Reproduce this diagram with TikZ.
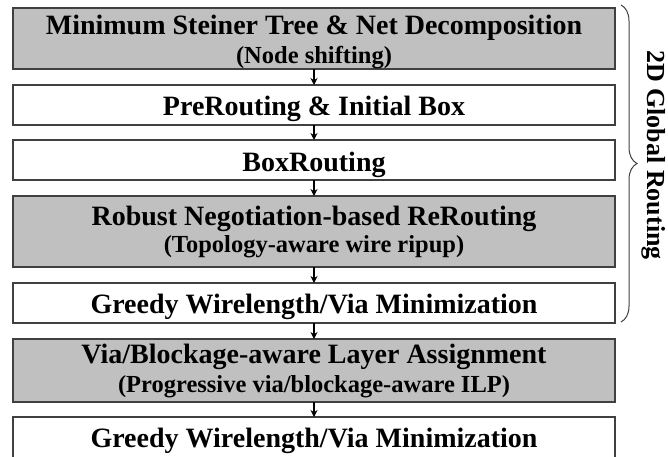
\documentclass[tikz,border=0pt]{standalone}
\usepackage{fontspec}
\setmainfont{Liberation Serif}
\usetikzlibrary{arrows.meta,decorations.pathreplacing}
\definecolor{boxgray}{RGB}{192,192,192}
\definecolor{edgegray}{RGB}{64,64,64}
\begin{document}
\begin{tikzpicture}[x=1pt,y=-1pt,
  stage/.style={draw=edgegray, line width=1.2pt, minimum width=602pt, inner sep=0pt, outer sep=0pt},
  shaded/.style={stage, fill=boxgray},
  plain/.style={stage, fill=white},
  headline/.style={font=\fontsize{28}{30}\selectfont\bfseries, anchor=base, inner sep=0pt},
  subline/.style={font=\fontsize{24.5}{27}\selectfont\bfseries, anchor=base, inner sep=0pt},
  flow/.style={draw=black, line width=1.2pt, -{Stealth[length=7pt,width=7pt]}},
]
\useasboundingbox (0,0) rectangle (668,456);

% stage boxes
\node[shaded, minimum height=61pt] (b1) at (314,38.5) {};
\node[plain,  minimum height=40pt] (b2) at (314,105) {};
\node[plain,  minimum height=40pt] (b3) at (314,160) {};
\node[shaded, minimum height=71pt] (b4) at (314,231.5) {};
\node[plain,  minimum height=40pt] (b5) at (314,303) {};
\node[shaded, minimum height=63pt] (b6) at (314,370.5) {};
\node[plain,  minimum height=58pt] (b7) at (314,446) {};

% stage texts
\node[headline] (t1) at (314,34) {Minimum Steiner Tree \& Net Decomposition};
\node[subline]  (s1) at (314,63) {(Node shifting)};
\node[headline] (t2) at (314,115) {PreRouting \& Initial Box};
\node[headline] (t3) at (314,171) {BoxRouting};
\node[headline] (t4) at (314,225) {Robust Negotiation-based ReRouting};
\node[subline]  (s4) at (314,252) {(Topology-aware wire ripup)};
\node[headline] (t5) at (314,313) {Greedy Wirelength/Via Minimization};
\node[headline] (t6) at (314,363) {Via/Blockage-aware Layer Assignment};
\node[subline]  (s6) at (314,392) {(Progressive via/blockage-aware ILP)};
\node[headline] (t7) at (314,447) {Greedy Wirelength/Via Minimization};

% flow arrows
\draw[flow] (b1.south) -- (b2.north);
\draw[flow] (b2.south) -- (b3.north);
\draw[flow] (b3.south) -- (b4.north);
\draw[flow] (b4.south) -- (b5.north);
\draw[flow] (b5.south) -- (b6.north);
\draw[flow] (b6.south) -- (b7.north);

% brace grouping the 2D stages
\coordinate (bt) at (621,5);
\coordinate (bb) at (621,322);
\draw[decorate, decoration={brace, amplitude=16pt}, line width=1pt, edgegray] (bt) -- (bb);
\node[rotate=-90, font=\fontsize{26}{28}\selectfont\bfseries, inner sep=0pt] (gr) at (654,155) {2D Global Routing};
\end{tikzpicture}
\end{document}
